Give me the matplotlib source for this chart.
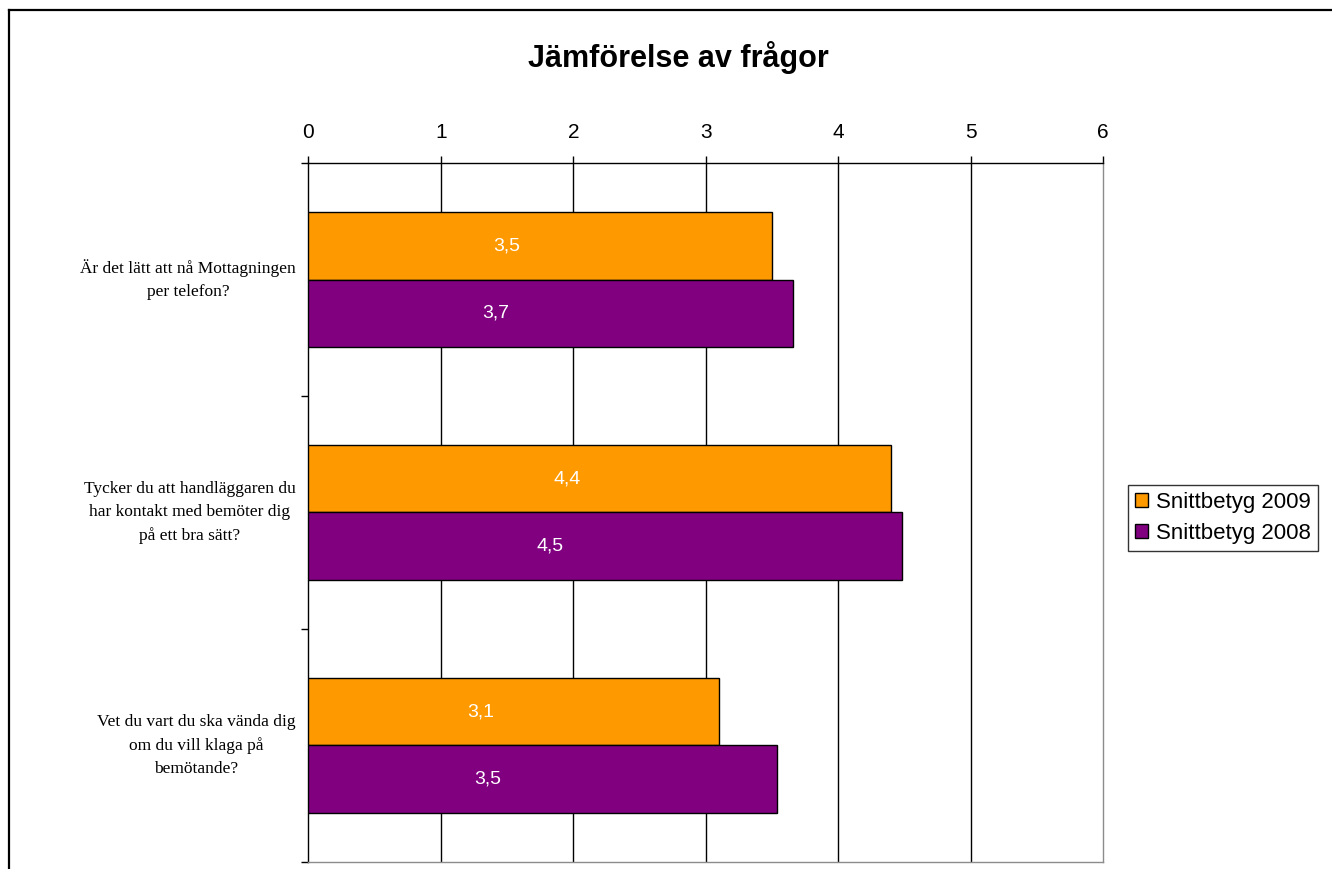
# Jämförelse av frågor - horisontella staplar, snittbetyg 2009 mot 2008

import matplotlib
matplotlib.use("Agg")
import matplotlib.pyplot as plt
from matplotlib.lines import Line2D
from matplotlib.patches import Patch
import numpy as np


# Data :

questions = [
    "Är det lätt att nå Mottagningen\nper telefon?",
    "Tycker du att handläggaren du\nhar kontakt med bemöter dig\npå ett bra sätt?",
    "Vet du vart du ska vända dig\nom du vill klaga på\nbemötande?",
]

series_names = ["Snittbetyg 2009", "Snittbetyg 2008"]

scores_2009 = [3.50, 4.40, 3.10]
scores_2008 = [3.66, 4.48, 3.54]

x_ticks = [0, 1, 2, 3, 4, 5, 6]


# Style :

ORANGE = "#FF9900"
PURPLE = "#800080"
GREY = "#8C8C8C"
BAR_H = 0.288


def fmt(v):
    return f"{v:.1f}".replace(".", ",")


fig = plt.figure(figsize=(13.32, 8.69), dpi=100)
ax = fig.add_axes([0.2316, 0.0081, 0.5967, 0.8043])

y = np.arange(len(questions))

ax.barh(y - BAR_H / 2, scores_2009, height=BAR_H, color=ORANGE,
        edgecolor="black", linewidth=1.0, zorder=3)
ax.barh(y + BAR_H / 2, scores_2008, height=BAR_H, color=PURPLE,
        edgecolor="black", linewidth=1.0, zorder=3)

# value labels inside the bars, a bit left of the middle
for yy, v in zip(y - BAR_H / 2, scores_2009):
    ax.text(v / 2 - 0.25, yy, fmt(v), color="white", fontsize=14,
            family="Liberation Sans", ha="center", va="center", zorder=4)
for yy, v in zip(y + BAR_H / 2, scores_2008):
    ax.text(v / 2 - 0.42, yy, fmt(v), color="white", fontsize=14,
            family="Liberation Sans", ha="center", va="center", zorder=4)

ax.set_xlim(0, 6)
ax.set_ylim(len(questions) - 0.5, -0.5)

ax.xaxis.tick_top()
ax.set_xticks(x_ticks)
ax.set_xticklabels([str(t) for t in x_ticks], fontsize=15, family="Liberation Sans")
ax.tick_params(axis="x", direction="out", length=5, width=1, pad=10)

ax.set_yticks(np.arange(len(questions) + 1) - 0.5)
ax.set_yticklabels([])
ax.tick_params(axis="y", direction="out", length=5, width=1)

for t in x_ticks[1:-1]:
    ax.axvline(t, color="black", linewidth=1.0, zorder=1)

ax.spines["top"].set_color("black")
ax.spines["left"].set_color("black")
ax.spines["right"].set_color(GREY)
ax.spines["bottom"].set_color(GREY)
for s in ax.spines.values():
    s.set_linewidth(1.0)

# question labels left of the axis
trans = ax.get_yaxis_transform()
for yy, q in zip(y, questions):
    ax.text(-0.016, yy, q, transform=trans, ha="right", va="center",
            multialignment="center", fontsize=12.5, family="Liberation Serif",
            linespacing=1.6)

fig.text(0.509, 0.934, "Jämförelse av frågor", ha="center", va="center",
         fontsize=22, fontweight="bold", family="Liberation Sans")

handles = [Patch(facecolor=ORANGE, edgecolor="black", linewidth=1.0),
           Patch(facecolor=PURPLE, edgecolor="black", linewidth=1.0)]
leg = fig.legend(handles, series_names, loc="center left",
                 bbox_to_anchor=(0.847, 0.404), frameon=True, fancybox=False,
                 prop={"family": "Liberation Sans", "size": 16},
                 handlelength=0.6, handleheight=0.6, handletextpad=0.35,
                 borderpad=0.3, labelspacing=0.45, borderaxespad=0)
leg.get_frame().set_edgecolor("black")
leg.get_frame().set_linewidth(1.0)

# outer frame of the chart area
fig.add_artist(Line2D([9 / 1332, 1.0], [1 - 10 / 869, 1 - 10 / 869],
                      transform=fig.transFigure, color="black", linewidth=1.6))
fig.add_artist(Line2D([9 / 1332, 9 / 1332], [0.0, 1 - 10 / 869],
                      transform=fig.transFigure, color="black", linewidth=1.6))

fig.savefig("out.png", dpi=100)
